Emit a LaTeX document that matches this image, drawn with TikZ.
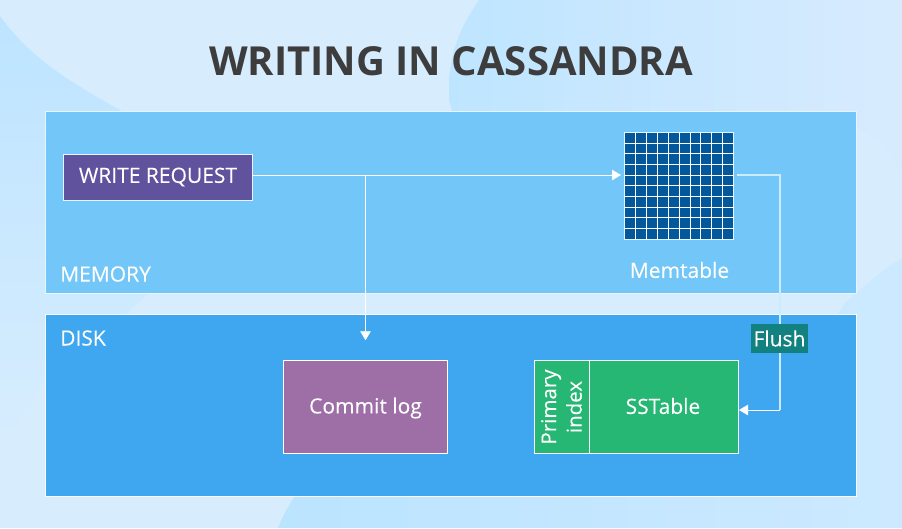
\documentclass[tikz,border=0pt]{standalone}
\usepackage{fontspec}
\setmainfont[FakeBold=0.12]{Open Sans}
\newfontfamily\titlefont{Open Sans}
\usetikzlibrary{arrows.meta}
\definecolor{bgbase}{HTML}{D7EDFE}
\definecolor{memfill}{HTML}{73C7F8}
\definecolor{diskfill}{HTML}{3FA7F0}
\definecolor{edgepale}{HTML}{E6F5FF}
\definecolor{writefill}{HTML}{60529C}
\definecolor{commitfill}{HTML}{9E6FA6}
\definecolor{ssfill}{HTML}{26B775}
\definecolor{flushfill}{HTML}{12817F}
\definecolor{gridfill}{HTML}{03589B}
\definecolor{titlegray}{HTML}{3D3D3D}
\definecolor{paleline}{HTML}{CDEBFF}
\tikzset{
  panel/.style={draw=edgepale,line width=1.2pt,anchor=north west,inner sep=0pt},
  box/.style={draw=white,line width=1pt,text=white,inner sep=0pt,font=\fontsize{21}{25}\selectfont},
  plainlabel/.style={text=white,inner sep=0pt,font=\fontsize{21}{25}\selectfont},
  link/.style={draw=white,line width=0.9pt},
  tipped/.style={link,-{Triangle[length=9pt,width=10.5pt]}},
}
\begin{document}
\begin{tikzpicture}[x=1pt,y=-1pt]
\useasboundingbox (0,0) rectangle (902,528);
\fill[bgbase] (0,0) rectangle (902,528);
% background blobs
\path[top color={rgb,255:red,189;green,228;blue,255},bottom color=bgbase]
  (0,16) .. controls (30,58) and (70,82) .. (120,110) -- (200,150) -- (147,295) -- (127,313) -- (43,383) -- (0,450) -- cycle;
\path[left color={rgb,255:red,190;green,229;blue,255},right color={rgb,255:red,216;green,235;blue,254}]
  (479,0) .. controls (462,25) and (449,50) .. (449,90) .. controls (449,98) and (450,105) .. (452,112) -- (856,128)
  .. controls (880,136) and (885,152) .. (902,170) -- (902,0) -- cycle;
\path[left color={rgb,255:red,187;green,228;blue,255},right color={rgb,255:red,204;green,233;blue,255}]
  (278,528) .. controls (283,515) and (289,505) .. (296,495) -- (320,400) -- (330,320) -- (838,314) -- (845,303)
  .. controls (865,285) and (885,268) .. (902,258) -- (902,528) -- cycle;
% panels
\node[panel,fill=memfill,minimum width=811pt,minimum height=182pt] (memory) at (44.5,110.5) {};
\node[panel,draw=white,fill=diskfill,minimum width=811pt,minimum height=182pt] (disk) at (44.5,313.5) {};
\node[plainlabel,anchor=west] (memlabel) at (60,274) {MEMORY};
\node[plainlabel,anchor=west] (disklabel) at (60,338) {DISK};
% title
\node[inner sep=0pt,text=titlegray,font=\fontsize{40}{48}\titlefont\bfseries] (title) at (451,61.5) {WRITING IN CASSANDRA};
% boxes
\node[box,fill=writefill,draw=edgepale,minimum width=189pt,minimum height=46pt] (write) at (158,177) {};
\node[plainlabel] (writetext) at (158,177) {WRITE REQUEST};
\node[box,fill=commitfill,minimum width=164.5pt,minimum height=93pt] (commit) at (365.25,407.25) {};
\node[plainlabel] (committext) at (365.5,408) {Commit log};
\node[box,fill=ssfill,minimum width=204.5pt,minimum height=93pt] (sstable) at (636.25,407.25) {};
\draw[white,line width=1pt] (589.5,361) coordinate (divtop) -- (589.5,454) coordinate (divbot);
\node[plainlabel] (sstext) at (663,406) {SSTable};
\node[text=white,inner sep=0pt,rotate=90,align=center,font=\fontsize{20.5}{25.5}\selectfont] (primary) at (561.5,407) {Primary\\index};
% memtable grid
\node[draw=edgepale,line width=1pt,fill=gridfill,minimum width=109pt,minimum height=106.5pt,inner sep=0pt] (memgrid) at (679,185.75) {};
\foreach \k in {1,...,9}{
  \draw[white,line width=0.7pt] (624.5+\k*10.9,132.5) -- (624.5+\k*10.9,239);
  \draw[white,line width=0.7pt] (624.5,132.5+\k*10.65) -- (733.5,132.5+\k*10.65);
}
\node[plainlabel,font=\fontsize{21}{24}\selectfont] (memtext) at (679.5,270) {Memtable};
% connectors
\coordinate (bendtop) at (780,175);
\coordinate (bendbot) at (780,410);
\coordinate (sstarget) at (739,410);
\coordinate (memtarget) at (624.5,175);
\coordinate (memsource) at (733.5,175);
\coordinate (junction) at (365.5,175);
\coordinate (writeout) at (252.5,175);
\draw[tipped,shorten >=3.5pt] (writeout) -- (memtarget);
\draw[tipped,shorten >=20pt] (junction) -- (junction |- commit.north);
\draw[draw=paleline,line width=1.3pt,shorten <=3pt] (memsource) -- (bendtop) -- (bendbot);
\draw[tipped] (bendbot) -- (sstarget);
\node[fill=flushfill,text=white,inner sep=0pt,minimum width=57pt,minimum height=29pt,font=\fontsize{21}{24}\selectfont] (flush) at (779.5,338.5) {Flush};
\end{tikzpicture}
\end{document}
